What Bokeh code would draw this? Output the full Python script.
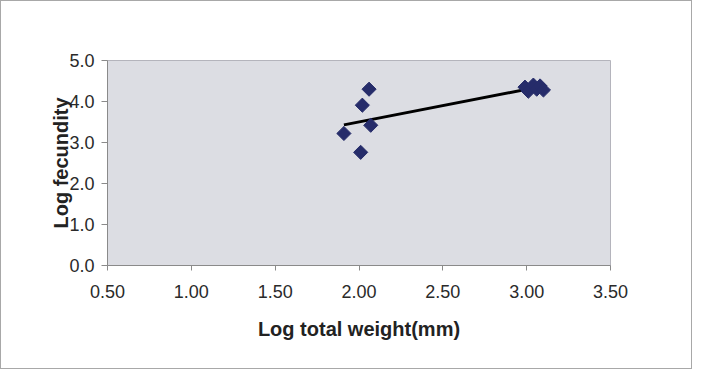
import numpy as np
from bokeh.plotting import figure
from bokeh.models import Range1d, FixedTicker, NumeralTickFormatter
from bokeh.embed import file_html
from bokeh.resources import INLINE

# Data
log_weight = [2.06, 2.02, 2.07, 1.91, 2.01, 2.99, 3.01, 3.04, 3.06, 3.08, 3.10]
log_fecundity = [4.30, 3.91, 3.42, 3.22, 2.76, 4.35, 4.25, 4.40, 4.30, 4.38, 4.28]
x_ticks = [0.5, 1.0, 1.5, 2.0, 2.5, 3.0, 3.5]
y_ticks = [0.0, 1.0, 2.0, 3.0, 4.0, 5.0]

FONT = "Liberation Sans"

p = figure(width=692, height=369, output_backend="svg", toolbar_location=None,
           x_range=Range1d(0.5, 3.5), y_range=Range1d(0, 5),
           min_border_left=106, min_border_right=83, min_border_top=59, min_border_bottom=105)
p.styles = {"border": "1px solid #a8a8a8"}
p.background_fill_color = "#dcdde3"
p.border_fill_color = "white"
p.outline_line_color = "#b4b4bc"
p.xgrid.visible = False
p.ygrid.visible = False

# trendline (least squares from the data)
slope, intercept = np.polyfit(log_weight, log_fecundity, 1)
xs = [min(log_weight), max(log_weight)]
ys = [slope * v + intercept for v in xs]
p.line(xs, ys, line_color="black", line_width=3)

p.scatter(log_weight, log_fecundity, marker="square", angle=np.pi / 4, size=10,
          fill_color="#262c6a", line_color="#262c6a")

for ax in (p.xaxis[0], p.yaxis[0]):
    ax.axis_line_color = "#8a8a8a"
    ax.major_tick_line_color = "#8a8a8a"
    ax.minor_tick_line_color = None
    ax.major_tick_in = 0
    ax.major_tick_out = 5
    ax.major_label_text_font = FONT
    ax.major_label_text_font_size = "18px"
    ax.major_label_text_color = "#2a2a2a"
    ax.axis_label_text_font = FONT
    ax.axis_label_text_font_size = "20px"
    ax.axis_label_text_font_style = "bold"
    ax.axis_label_text_color = "#222222"

p.xaxis.ticker = FixedTicker(ticks=x_ticks)
p.xaxis.formatter = NumeralTickFormatter(format="0.00")
p.xaxis.major_label_standoff = 14
p.xaxis.axis_label = "Log total weight(mm)"
p.xaxis.axis_label_standoff = 17

p.yaxis.ticker = FixedTicker(ticks=y_ticks)
p.yaxis.major_tick_out = 6
p.yaxis.formatter = NumeralTickFormatter(format="0.0")
p.yaxis.major_label_standoff = 7
p.yaxis.axis_label = "Log fecundity"
p.yaxis.axis_label_standoff = -6

open("out.html", "w").write(file_html(p, INLINE))
